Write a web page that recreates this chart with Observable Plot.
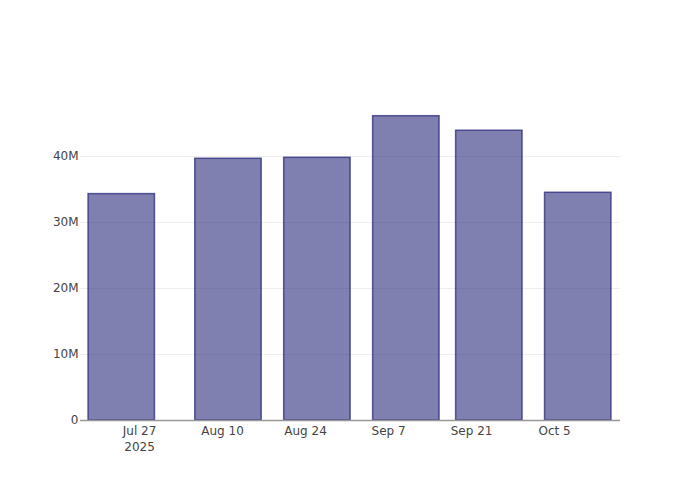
<!DOCTYPE html>
<html>
<head>
<meta charset="utf-8">
<script src="https://cdn.jsdelivr.net/npm/d3@7"></script>
<script src="https://cdn.jsdelivr.net/npm/@observablehq/plot@0.6"></script>
<style>
  html, body { margin: 0; padding: 0; background: #fff; }
  #chart svg { display: block; }
</style>
</head>
<body>
<div id="chart"></div>
<script>
// Data
const dates = ["2025-07-24", "2025-08-11", "2025-08-26", "2025-09-10", "2025-09-24", "2025-10-09"];
const values = [34.3e6, 39.65e6, 39.8e6, 46.1e6, 43.9e6, 34.5e6];
const barHalfWidthDays = 5.6; // 0.8 x minimum spacing (14 days) / 2
const xTicks = ["2025-07-27", "2025-08-10", "2025-08-24", "2025-09-07", "2025-09-21", "2025-10-05"];
const xTickLabels = ["Jul 27\n2025", "Aug 10", "Aug 24", "Sep 7", "Sep 21", "Oct 5"];
const yTicks = [0, 10e6, 20e6, 30e6, 40e6];
const yTickLabels = ["0", "10M", "20M", "30M", "40M"];
const xRange = ["2025-07-17T01:00:00Z", "2025-10-16T03:00:00Z"];
const yRange = [0, 48.48e6];

const DAY = 86400000;
const rows = dates.map((d, i) => {
  const t = new Date(d + "T00:00:00Z");
  return {
    x1: new Date(+t - barHalfWidthDays * DAY),
    x2: new Date(+t + barHalfWidthDays * DAY),
    y: values[i]
  };
});
const tickDates = xTicks.map(d => new Date(d + "T00:00:00Z"));

const chart = Plot.plot({
  width: 700,
  height: 500,
  marginLeft: 80,
  marginRight: 80,
  marginTop: 100,
  marginBottom: 80,
  style: { fontFamily: "DejaVu Sans, sans-serif", fontSize: "12px", color: "#444", background: "#fff" },
  x: { type: "utc", domain: xRange.map(d => new Date(d)) },
  y: { domain: yRange },
  marks: [
    Plot.gridY(yTicks.filter(v => v > 0), { stroke: "#eee", strokeOpacity: 1, strokeWidth: 1 }),
    Plot.rectY(rows, {
      x1: "x1", x2: "x2", y: "y",
      fill: "rgb(42,42,123)", fillOpacity: 0.6,
      stroke: "rgb(42,42,123)", strokeOpacity: 0.75, strokeWidth: 1.5
    }),
    Plot.ruleY([0], { stroke: "#999", strokeWidth: 1.5 }),
    Plot.axisY({
      ticks: yTicks,
      tickSize: 0,
      tickPadding: 2,
      tickFormat: (d, i) => yTickLabels[yTicks.indexOf(d)],
      label: null,
      fill: "#444",
      fontSize: 12
    }),
    Plot.axisX({
      ticks: tickDates,
      tickSize: 0,
      tickPadding: 3,
      tickFormat: d => xTickLabels[tickDates.findIndex(t => +t === +d)],
      label: null,
      fill: "#444",
      fontSize: 12,
      lineHeight: 1.33
    })
  ]
});
document.getElementById("chart").appendChild(chart);
</script>
</body>
</html>
